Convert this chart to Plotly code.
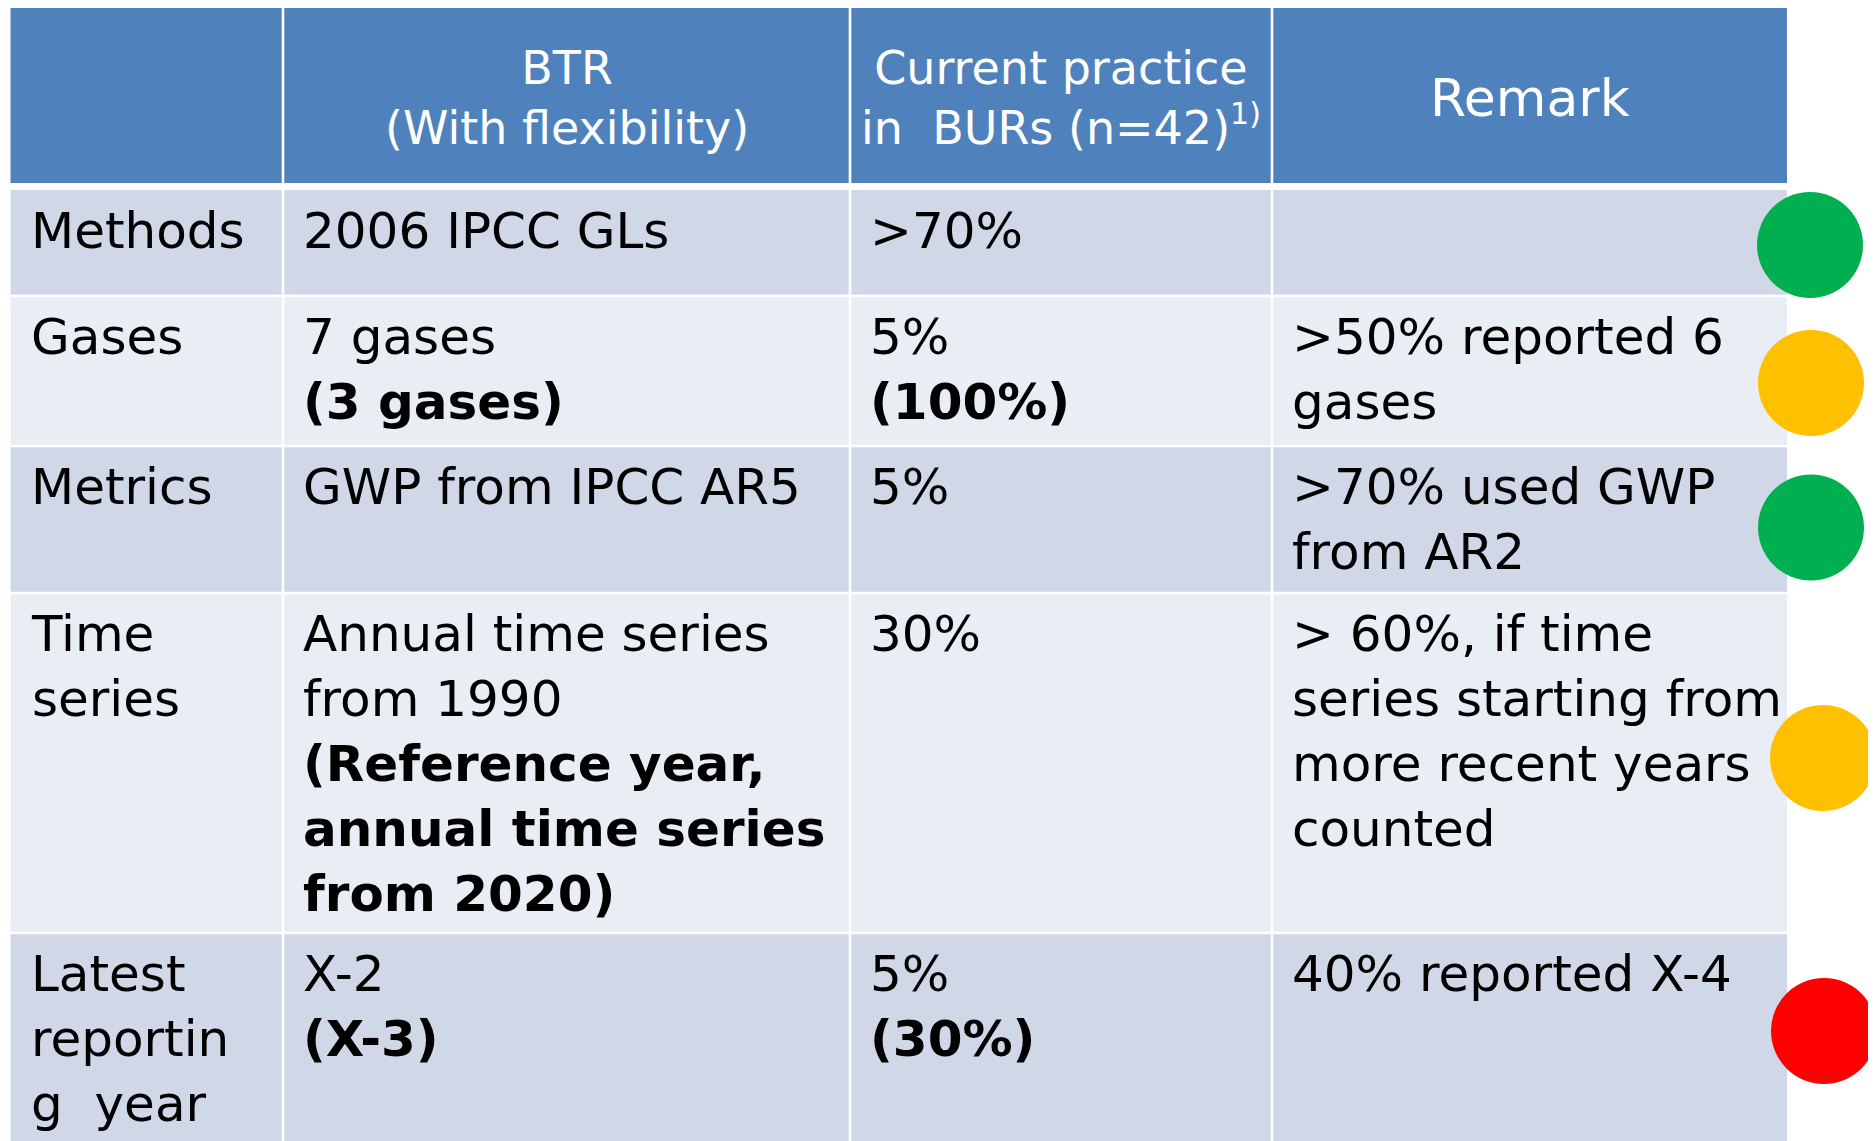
import plotly.graph_objects as go

# ---------------- data ----------------
headers = ["", "BTR<br>(With flexibility)",
           "Current practice<br>in  BURs (n=42)<sup><span style='font-size:30px'>1)</span></sup>", "Remark"]
row_labels = ["Methods", "Gases", "Metrics", "Time<br>series", "Latest<br>reportin<br>g  year"]
btr = [
    "2006 IPCC GLs",
    "7 gases<br><b>(3 gases)</b>",
    "GWP from IPCC AR5",
    "Annual time series<br>from 1990<br><b>(Reference year,<br>annual time series<br>from 2020)</b>",
    "X-2<br><b>(X-3)</b>",
]
current = [">70%", "5%<br><b>(100%)</b>", "5%", "30%", "5%<br><b>(30%)</b>"]
remark = [
    "",
    ">50% reported 6<br>gases",
    ">70% used GWP<br>from AR2",
    "> 60%, if time<br>series starting from<br>more recent years<br>counted",
    "40% reported X-4",
]
status = ["good", "partial", "good", "partial", "poor"]

# ---------------- layout / style ----------------
W, H = 1876, 1141
PAGE_OFF = 8  # default HTML body margin
FONT = "DejaVu Sans"
HEADER_BG = "#4F81BD"
ROW_BG = ["#D0D8E8", "#E9EDF4"]
STATUS_COLORS = {"good": "#00B050", "partial": "#FFC000", "poor": "#FF0000"}

col_bounds = [10.5, 283, 850, 1272, 1787]
table_top = 6
header_bottom = 183
row_top0 = 190
row_heights = [106, 150, 147, 340, 220]
line_w = 2.6
text_pad = 18
text_top_off = 10
circle_x = 1814
circle_size = 106
# small placement nudges of each status dot relative to its row centre (dx, dy)
circle_nudge = [(-4, 2), (-3, 12), (-3, 8), (9, -5), (10, -12)]

row_bounds = [row_top0]
for h in row_heights:
    row_bounds.append(row_bounds[-1] + h)

shapes = []
annotations = []

# header cells
for c in range(4):
    x0 = col_bounds[c] + (line_w / 2 if c > 0 else 0)
    x1 = col_bounds[c + 1] - (line_w / 2 if c < 3 else 0)
    shapes.append(dict(type="rect", xref="x", yref="y", x0=x0, x1=x1, y0=table_top, y1=header_bottom,
                       fillcolor=HEADER_BG, line=dict(width=0), layer="below"))
    if headers[c]:
        size = 52 if headers[c] == "Remark" else 46
        annotations.append(dict(x=(col_bounds[c] + col_bounds[c + 1]) / 2, y=(table_top + header_bottom) / 2 + 3,
                                xref="x", yref="y", text=headers[c], showarrow=False,
                                xanchor="center", yanchor="middle", align="center",
                                font=dict(family=FONT, size=size, color="white")))

# body cells
columns = [row_labels, btr, current, remark]
for r in range(len(row_labels)):
    y0 = row_bounds[r] + (line_w / 2 if r > 0 else 0)
    y1 = row_bounds[r + 1] - line_w / 2
    for c in range(4):
        x0 = col_bounds[c] + (line_w / 2 if c > 0 else 0)
        x1 = col_bounds[c + 1] - (line_w / 2 if c < 3 else 0)
        shapes.append(dict(type="rect", xref="x", yref="y", x0=x0, x1=x1, y0=y0, y1=y1,
                           fillcolor=ROW_BG[r % 2], line=dict(width=0), layer="below"))
        txt = columns[c][r]
        if txt:
            annotations.append(dict(x=col_bounds[c] + text_pad, y=row_bounds[r] + text_top_off,
                                    xref="x", yref="y", text=txt, showarrow=False,
                                    xanchor="left", yanchor="top", align="left",
                                    font=dict(family=FONT, size=50, color="black")))

# status circles
row_centers = [(row_bounds[i] + row_bounds[i + 1]) / 2 for i in range(len(row_labels))]
fig = go.Figure()
fig.add_trace(go.Scatter(
    x=[circle_x + circle_nudge[i][0] for i in range(len(status))],
    y=[row_centers[i] + circle_nudge[i][1] for i in range(len(status))],
    mode="markers",
    marker=dict(size=circle_size, color=[STATUS_COLORS[s] for s in status], line=dict(width=0)),
    hoverinfo="skip", showlegend=False, cliponaxis=False,
))

fig.update_layout(
    width=W, height=H, margin=dict(l=0, r=0, t=0, b=0),
    paper_bgcolor="white", plot_bgcolor="white",
    shapes=shapes, annotations=annotations,
    xaxis=dict(range=[PAGE_OFF, W + PAGE_OFF], visible=False, fixedrange=True),
    yaxis=dict(range=[H + PAGE_OFF, PAGE_OFF], visible=False, fixedrange=True),
    showlegend=False,
)
fig.write_html("out.html")
